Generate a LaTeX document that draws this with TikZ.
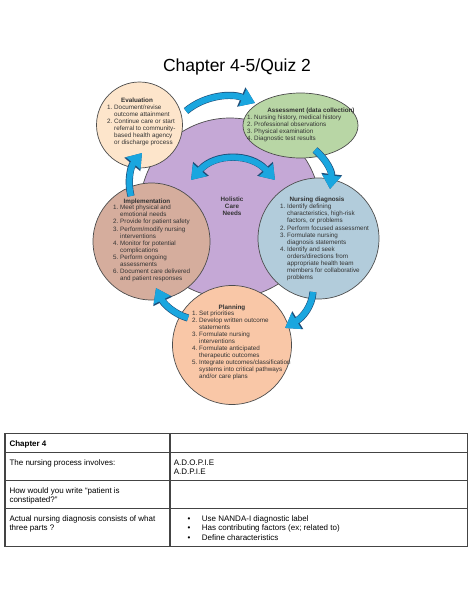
\documentclass[tikz,border=0pt]{standalone}
\usepackage{fontspec}
\setmainfont{Liberation Sans}
\usetikzlibrary{arrows.meta,shapes.geometric}
\definecolor{purpC}{HTML}{C5A8D6}
\definecolor{evalC}{HTML}{FDE5CB}
\definecolor{assessC}{HTML}{B8D6A5}
\definecolor{implC}{HTML}{D5AD9D}
\definecolor{diagC}{HTML}{B2CCDB}
\definecolor{planC}{HTML}{F9C7A7}
\definecolor{arrC}{HTML}{1AA6DF}
\definecolor{arrEdge}{HTML}{1F4E79}
\definecolor{edgeC}{HTML}{4D4D4D}
\definecolor{txtC}{HTML}{333333}
\definecolor{tabC}{HTML}{444444}
\newcommand{\litem}[2]{\par\hangindent=7pt\hangafter=1\noindent\makebox[7pt][l]{#1}#2}
\newcommand{\smallfnt}{\fontsize{6.3}{7.1}\selectfont}
\newcommand{\tabfnt}{\fontsize{8}{9.35}\selectfont}
\newcommand{\cellbox}[1]{\parbox[t]{250pt}{\tabfnt #1}}
\begin{document}
\begin{tikzpicture}[x=1pt,y=-1pt,
  phase/.style={draw=edgeC,line width=0.7pt},
  ttl/.style={anchor=base,inner sep=0,font=\smallfnt\bfseries,text=txtC},
  lst/.style={anchor=base west,inner sep=0,text=txtC},
  cellt/.style={anchor=base west,inner sep=0,text=black},
  flowedge/.style={line width=7.2pt,draw=arrEdge,-{Triangle[length=15pt,width=20pt]}},
  flowfill/.style={line width=6pt,draw=arrC,-{Triangle[length=13.5pt,width=18pt]}},
  dbledge/.style={line width=7.2pt,draw=arrEdge,{Triangle[length=15pt,width=20pt]}-{Triangle[length=15pt,width=20pt]}},
  dblfill/.style={line width=6pt,draw=arrC,{Triangle[length=13.5pt,width=18pt]}-{Triangle[length=13.5pt,width=18pt]}}]
\useasboundingbox (0,0) rectangle (474,613);
\fill[white] (0,0) rectangle (474,613);

% title
\node[anchor=base,inner sep=0,font=\fontsize{17.5}{20}\selectfont] (title) at (237,71) {Chapter 4-5/Quiz 2};

% circles
\node[circle,phase,fill=purpC,minimum size=180pt,inner sep=0] (holistic) at (230,208) {};
\node[circle,phase,fill=evalC,minimum size=86pt,inner sep=0] (eval) at (139.5,125) {};
\node[ellipse,phase,fill=assessC,minimum width=115pt,minimum height=65pt,inner sep=0] (assess) at (300.5,125.5) {};
\node[circle,phase,fill=implC,minimum size=117pt,inner sep=0] (impl) at (151.5,241.5) {};
\node[circle,phase,fill=diagC,minimum size=121pt,inner sep=0] (diag) at (318.5,238.5) {};
\node[circle,phase,fill=planC,minimum size=119pt,inner sep=0] (plan) at (232,345) {};

% arrow anchors
\coordinate (a1s) at (186,111);
\coordinate (a1e) at (255,103);
\coordinate (a2s) at (315,150);
\coordinate (a2e) at (330,189);
\coordinate (a3s) at (313,292);
\coordinate (a3e) at (285,328);
\coordinate (a4s) at (188,318);
\coordinate (a4e) at (156,288);
\coordinate (a5s) at (131,196);
\coordinate (a5e) at (142,153);
\coordinate (a6s) at (191,180);
\coordinate (a6e) at (275,180);

\foreach \st in {flowedge,flowfill}{
  \draw[\st] (a1s) .. controls (205,95) and (232,93) .. (a1e);
  \draw[\st] (a2s) .. controls (327,160) and (332,172) .. (a2e);
  \draw[\st] (a3s) .. controls (312,306) and (303,317) .. (a3e);
  \draw[\st] (a4s) .. controls (174,314) and (164,304) .. (a4e);
  \draw[\st] (a5s) .. controls (127,180) and (131,166) .. (a5e);
}
\draw[dbledge] (a6s) .. controls (215,153) and (251,153) .. (a6e);
\draw[dblfill] (a6s) .. controls (215,153) and (251,153) .. (a6e);

% center text
\node[anchor=base,inner sep=0,text=txtC] (hcn) at (232,201) {\parbox[t]{60pt}{\centering\smallfnt\bfseries Holistic\\Care\\Needs}};

% Evaluation
\node[ttl] (evalT) at (137,102) {Evaluation};
\node[lst] (evalL) at (107,109) {\parbox[t]{150pt}{\smallfnt
\litem{1.}{Document/revise\\outcome attainment}
\litem{2.}{Continue care or start\\referral to community-\\based health agency\\or discharge process}}};

% Assessment
\node[ttl] (assessT) at (311,112) {Assessment (data collection)};
\node[lst] (assessL) at (247,119.5) {\parbox[t]{150pt}{\smallfnt
\litem{1.}{Nursing history, medical history}
\litem{2.}{Professional observations}
\litem{3.}{Physical examination}
\litem{4.}{Diagnostic test results}}};

% Nursing diagnosis
\node[ttl] (diagT) at (317,201) {Nursing diagnosis};
\node[lst] (diagL) at (280,208.7) {\parbox[t]{150pt}{\smallfnt
\litem{1.}{Identify defining\\characteristics, high-risk\\factors, or problems}
\litem{2.}{Perform focused assessment}
\litem{3.}{Formulate nursing\\diagnosis statements}
\litem{4.}{Identify and seek\\orders/directions from\\appropriate health team\\members for collaborative\\problems}}};

% Implementation
\node[ttl] (implT) at (147,203) {Implementation};
\node[lst] (implL) at (113,209.7) {\parbox[t]{150pt}{\smallfnt
\litem{1.}{Meet physical and\\emotional needs}
\litem{2.}{Provide for patient safety}
\litem{3.}{Perform/modify nursing\\interventions}
\litem{4.}{Monitor for potential\\complications}
\litem{5.}{Perform ongoing\\assessments}
\litem{6.}{Document care delivered\\and patient responses}}};

% Planning
\node[ttl] (planT) at (232,309) {Planning};
\node[lst] (planL) at (192,315) {\parbox[t]{150pt}{\smallfnt
\litem{1.}{Set priorities}
\litem{2.}{Develop written outcome\\statements}
\litem{3.}{Formulate nursing\\interventions}
\litem{4.}{Formulate anticipated\\therapeutic outcomes}
\litem{5.}{Integrate outcomes/classification\\systems into critical pathways\\and/or care plans}}};

% table
\coordinate (tl) at (5,433.3);
\coordinate (br) at (467.7,546.7);
\draw[tabC,line width=1.1pt] (tl) rectangle (br);
\draw[tabC,line width=1.1pt] (5,452.3) -- (467.7,452.3);
\draw[tabC,line width=1.1pt] (5,480.3) -- (467.7,480.3);
\draw[tabC,line width=1.1pt] (5,508.7) -- (467.7,508.7);
\draw[tabC,line width=1.1pt] (170,433.3) -- (170,546.7);

\node[cellt] (c11) at (9.3,446) {\cellbox{\bfseries Chapter 4}};
\node[cellt] (c21) at (9.3,465) {\cellbox{The nursing process involves:}};
\node[cellt] (c22) at (173.7,465) {\cellbox{A.D.O.P.I.E\\A.D.P.I.E}};
\node[cellt] (c31) at (9.3,493.3) {\cellbox{How would you write “patient is\\constipated?”}};
\node[cellt] (c41) at (9.3,521.6) {\cellbox{Actual nursing diagnosis consists of what\\three parts ?}};
\node[cellt] (b1) at (187.5,521.6) {\cellbox{•}};
\node[cellt] (b2) at (187.5,530.95) {\cellbox{•}};
\node[cellt] (b3) at (187.5,540.3) {\cellbox{•}};
\node[cellt] (c42) at (201.7,521.6) {\cellbox{Use NANDA-I diagnostic label\\Has contributing factors (ex; related to)\\Define characteristics}};
\end{tikzpicture}
\end{document}
